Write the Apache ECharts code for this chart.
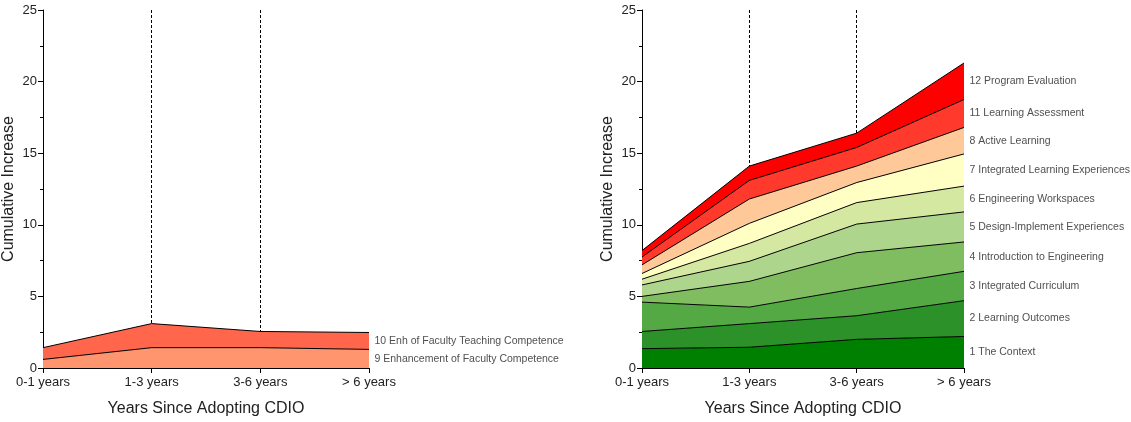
<!DOCTYPE html>
<html>
<head>
<meta charset="utf-8">
<script src="https://cdn.jsdelivr.net/npm/echarts@6/dist/echarts.min.js"></script>
<style>html,body{margin:0;padding:0;background:#fff}#c{width:1131px;height:422px}</style>
</head>
<body>
<div id="c"></div>
<script>
const categories = ['0-1 years', '1-3 years', '3-6 years', '> 6 years'];
const yTicks = [0, 5, 10, 15, 20, 25];

// Left chart (bottom to top)
const leftNames = ['9 Enhancement of Faculty Competence', '10 Enh of Faculty Teaching Competence'];
const leftColors = ['#FF956E', '#FF664C'];
const s9 = [0.6, 1.42, 1.42, 1.3];
const s10 = [0.82, 1.68, 1.13, 1.18];

// Right chart (bottom to top)
const rightNames = ['1 The Context', '2 Learning Outcomes', '3 Integrated Curriculum', '4 Introduction to Engineering',
  '5 Design-Implement Experiences', '6 Engineering Workspaces', '7 Integrated Learning Experiences',
  '8 Active Learning', '11 Learning Assessment', '12 Program Evaluation'];
const rightColors = ['#008000', '#2C9128', '#54A945', '#80BD61', '#ADD58B', '#D5E8A2', '#FFFFC4', '#FFC898', '#FF3A2C', '#FF0000'];
const r1 = [1.35, 1.45, 2.0, 2.2];
const r2 = [1.2, 1.65, 1.65, 2.5];
const r3 = [2.05, 1.15, 1.9, 2.05];
const r4 = [0.4, 1.8, 2.5, 2.05];
const r5 = [0.8, 1.4, 2.0, 2.1];
const r6 = [0.4, 1.25, 1.5, 1.8];
const r7 = [0.4, 1.4, 1.4, 2.25];
const r8 = [0.6, 1.7, 1.15, 1.85];
const r11 = [0.55, 1.3, 1.3, 1.95];
const r12 = [0.45, 1.0, 1.0, 2.55];

const leftData = [s9, s10];
const rightData = [r1, r2, r3, r4, r5, r6, r7, r8, r11, r12];

const FONT = 'Liberation Sans, Arial, sans-serif';

function xAxis(gi) {
  return {
    type: 'category', gridIndex: gi, data: categories, boundaryGap: false,
    axisLine: { show: true, lineStyle: { color: '#000', width: 1 } },
    axisTick: { show: true, length: 5, lineStyle: { color: '#000' } },
    axisLabel: { color: '#222', fontSize: 13, fontFamily: FONT, margin: 8 },
    splitLine: { show: true, interval: (i) => i === 1 || i === 2, lineStyle: { color: '#000', type: [3, 2], width: 1 } },
    name: 'Years Since Adopting CDIO', nameLocation: 'middle', nameGap: 33,
    nameTextStyle: { color: '#222', fontSize: 16, fontFamily: FONT }
  };
}
function yAxis(gi) {
  return {
    type: 'value', gridIndex: gi, min: yTicks[0], max: yTicks[yTicks.length - 1], interval: 5,
    axisLine: { show: true, lineStyle: { color: '#000', width: 1 } },
    axisTick: { show: true, length: 5, lineStyle: { color: '#000' } },
    minorTick: { show: true, splitNumber: 2, length: 3, lineStyle: { color: '#000' } },
    splitLine: { show: false },
    axisLabel: { color: '#222', fontSize: 13, fontFamily: FONT, margin: 6 },
    name: 'Cumulative Increase', nameLocation: 'middle', nameGap: 26,
    nameTextStyle: { color: '#222', fontSize: 16, fontFamily: FONT }
  };
}

const series = [];
function addStack(data, names, colors, gi, stackName) {
  data.forEach((arr, k) => {
    series.push({
      type: 'line', name: names[k], xAxisIndex: gi, yAxisIndex: gi, stack: stackName,
      data: arr, symbol: 'none', smooth: false, z: 3,
      lineStyle: { color: '#000', width: 1 },
      areaStyle: { color: colors[k], opacity: 1 },
      emphasis: { disabled: true }
    });
  });
  // labels at the middle of each layer at the last category
  const last = categories.length - 1;
  const labelPts = [];
  let base = 0;
  data.forEach((arr, k) => {
    labelPts.push({ value: [last, base + arr[last] / 2], name: names[k] });
    base += arr[last];
  });
  series.push({
    type: 'scatter', xAxisIndex: gi, yAxisIndex: gi, data: labelPts, symbolSize: 1, z: 5,
    itemStyle: { color: 'rgba(0,0,0,0)' }, silent: true,
    label: { show: true, position: 'right', distance: 5, formatter: (p) => p.name, color: '#222', fontSize: 10.5, fontFamily: FONT }
  });
}
addStack(leftData, leftNames, leftColors, 0, 'L');
addStack(rightData, rightNames, rightColors, 1, 'R');

const chart = echarts.init(document.getElementById('c'), null, { renderer: 'canvas' });
chart.setOption({
  animation: false,
  backgroundColor: '#fff',
  grid: [
    { left: 43, right: 762, top: 10, bottom: 47, containLabel: false },
    { left: 642, right: 167, top: 10, bottom: 47, containLabel: false }
  ],
  xAxis: [xAxis(0), xAxis(1)],
  yAxis: [yAxis(0), yAxis(1)],
  series: series
});
</script>
</body>
</html>
